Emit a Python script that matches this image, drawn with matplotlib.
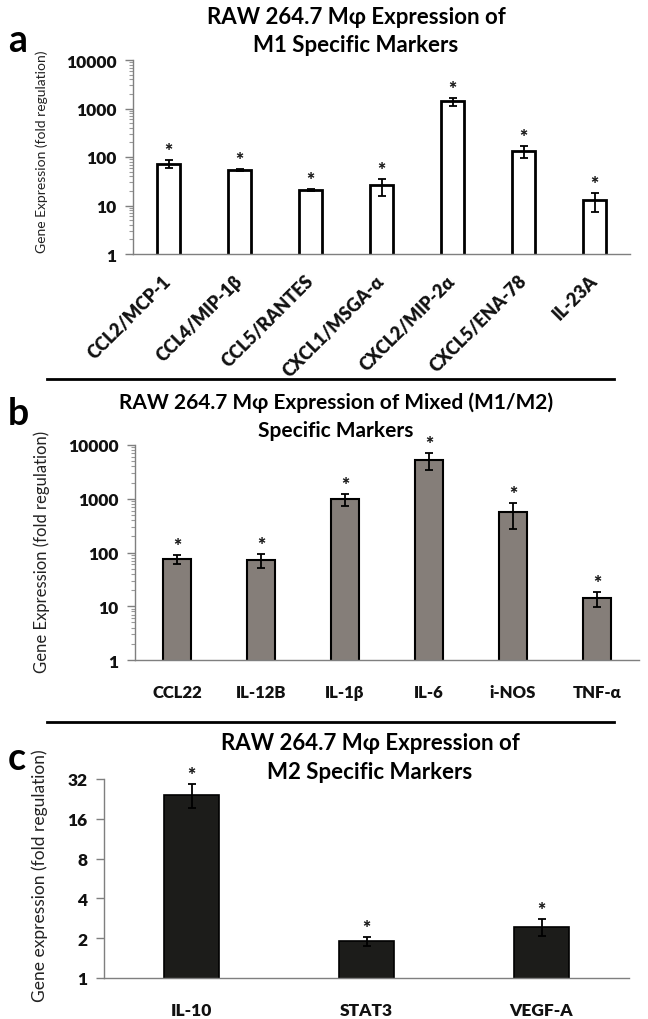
import matplotlib
matplotlib.use("Agg")
import matplotlib.pyplot as plt
import numpy as np

plt.rcParams['font.family'] = ['Lato', 'Open Sans', 'DejaVu Sans']
plt.rcParams['font.weight'] = 'heavy'
plt.rcParams['axes.labelweight'] = 'normal'

# panel a - M1 markers
m1_genes = ['CCL2/MCP-1', 'CCL4/MIP-1β', 'CCL5/RANTES', 'CXCL1/MSGA-α',
            'CXCL2/MIP-2α', 'CXCL5/ENA-78', 'IL-23A']
m1_fold = [72, 54, 21, 26, 1400, 130, 13]
m1_err = [13, 3, 1, 10, 250, 35, 5.5]

# panel b - mixed M1/M2 markers
mix_genes = ['CCL22', 'IL-12B', 'IL-1β', 'IL-6', 'i-NOS', 'TNF-α']
mix_fold = [75, 72, 970, 5300, 560, 14]
mix_err = [14, 20, 230, 1800, 290, 4.5]

# panel c - M2 markers
m2_genes = ['IL-10', 'STAT3', 'VEGF-A']
m2_fold = [24.3, 1.9, 2.42]
m2_err = [5, 0.15, 0.35]

log_ticks = [1, 10, 100, 1000, 10000]
log2_ticks = [1, 2, 4, 8, 16, 32]

W, H = 648, 1020
fig = plt.figure(figsize=(W / 100, H / 100), dpi=100)

def px_axes(left, right, top, bottom):
    return fig.add_axes([left / W, 1 - bottom / H, (right - left) / W, (bottom - top) / H])

def style(ax):
    for s in ['top', 'right']:
        ax.spines[s].set_visible(False)
    for s in ['left', 'bottom']:
        ax.spines[s].set_color('#7f7f7f')
        ax.spines[s].set_linewidth(1.0)
    ax.tick_params(axis='y', which='major', length=6, width=1, color='#7f7f7f',
                   pad=6, labelsize=12.5, labelcolor='#111111')
    ax.tick_params(axis='y', which='minor', length=3, width=0.8, color='#9a9a9a')
    ax.tick_params(axis='x', length=0, labelcolor='#111111')

def stars(ax, x, vals, errs):
    for xi, v, e in zip(x, vals, errs):
        ax.annotate('*', xy=(xi, v + e), xytext=(0, 4), textcoords='offset pixels',
                    ha='center', va='baseline', fontsize=14, color='#1a1a1a')

def ylab(ax, text, size, xc, yc):
    ax.set_ylabel(text, fontsize=size, fontweight='normal', color='#222222')
    ax.yaxis.set_label_coords(xc / W, 1 - yc / H, transform=fig.transFigure)

def title(lines, xc, ys, size):
    # each line as its own text, centred on xc
    for line, y in zip(lines, ys):
        fig.text(xc / W, 1 - y / H, line, ha='center', va='center',
                 fontsize=size, fontweight='bold')

# ---- panel a
ax1 = px_axes(133, 630, 61, 255)
x1 = np.arange(len(m1_genes))
ax1.bar(x1, m1_fold, 0.32, color='white', edgecolor='black', linewidth=2,
        yerr=m1_err, capsize=3, error_kw=dict(elinewidth=1.3, capthick=1.3))
ax1.set_yscale('log')
ax1.set_ylim(1, 10000)
ax1.set_xlim(-0.5, len(m1_genes) - 0.5)
ax1.set_yticks(log_ticks, [str(t) for t in log_ticks])
ax1.set_xticks(x1)
ax1.set_xticklabels(m1_genes, rotation=45, ha='right', va='center',
                    rotation_mode='anchor', fontsize=13)
ax1.tick_params(axis='x', pad=17)
style(ax1)
stars(ax1, x1, m1_fold, m1_err)
ylab(ax1, 'Gene Expression (fold regulation)', 10, 48, 152)

# ---- panel b
ax2 = px_axes(135, 639, 446, 661)
x2 = np.arange(len(mix_genes))
ax2.bar(x2, mix_fold, 0.33, color='#857e79', edgecolor='black', linewidth=1.5,
        yerr=mix_err, capsize=3, error_kw=dict(elinewidth=1.3, capthick=1.3))
ax2.set_yscale('log')
ax2.set_ylim(1, 10000)
ax2.set_xlim(-0.5, len(mix_genes) - 0.5)
ax2.set_yticks(log_ticks, [str(t) for t in log_ticks])
ax2.set_xticks(x2)
ax2.set_xticklabels(mix_genes, fontsize=12)
ax2.tick_params(axis='x', pad=17)
style(ax2)
stars(ax2, x2, mix_fold, mix_err)
ylab(ax2, 'Gene Expression (fold regulation)', 12, 50, 552)

# ---- panel c
ax3 = px_axes(104, 629, 780, 979)
x3 = np.arange(len(m2_genes))
ax3.bar(x3, m2_fold, 0.31, color='#1c1c1a', edgecolor='black', linewidth=1.2,
        yerr=m2_err, capsize=3, error_kw=dict(elinewidth=1.3, capthick=1.3))
ax3.set_yscale('log', base=2)
ax3.set_ylim(1, 32)
ax3.set_xlim(-0.5, len(m2_genes) - 0.5)
ax3.minorticks_off()
ax3.set_yticks(log2_ticks, [str(t) for t in log2_ticks])
ax3.set_xticks(x3)
ax3.set_xticklabels(m2_genes, fontsize=12.5)
ax3.tick_params(axis='x', pad=17)
style(ax3)
stars(ax3, x3, m2_fold, m2_err)
ylab(ax3, 'Gene expression (fold regulation)', 12.5, 48, 876)

# titles, panel letters, separators
title(['RAW 264.7 Mφ Expression of', 'M1 Specific Markers'], 356, [17, 45], 16)
title(['RAW 264.7 Mφ Expression of Mixed (M1/M2)', 'Specific Markers'], 336, [403, 431], 15)
title(['RAW 264.7 Mφ Expression of', 'M2 Specific Markers'], 370, [744, 773], 16)

for letter, yb in [('a', 52), ('b', 425), ('c', 770)]:
    fig.text(8 / W, 1 - yb / H, letter, ha='left', va='baseline', fontsize=27,
             fontweight='bold')

for yl in [380, 723]:
    fig.add_artist(plt.Line2D([47 / W, 614 / W], [1 - yl / H, 1 - yl / H],
                              color='black', linewidth=2))

fig.savefig('out.png', dpi=100)
